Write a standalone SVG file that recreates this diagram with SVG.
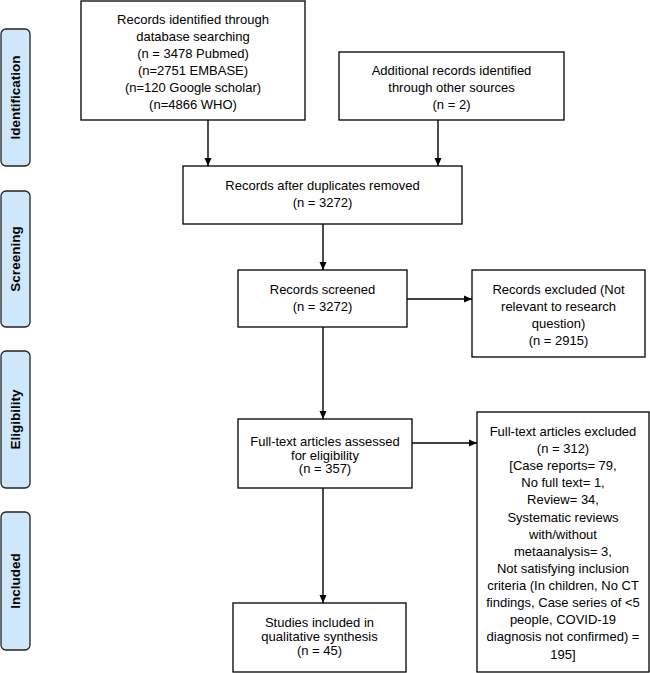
<svg xmlns="http://www.w3.org/2000/svg" width="650" height="673" viewBox="0 0 650 673">
<style>
.box{fill:#fff;stroke:#000;stroke-width:1.3}
.lab{fill:#cfe7fa;stroke:#222;stroke-width:1.3}
.t{font-family:"Liberation Sans",Arial,sans-serif;font-size:13px;fill:#000;text-anchor:middle}
.lt{font-family:"Liberation Sans",Arial,sans-serif;font-size:13.5px;font-weight:bold;fill:#000;text-anchor:middle}
.c{stroke:#000;stroke-width:1.4;fill:none;marker-end:url(#ah)}
</style>
<defs>
<marker id="ah" viewBox="0 0 8 8" refX="8" refY="4" markerWidth="8" markerHeight="8" markerUnits="userSpaceOnUse" orient="auto">
<path d="M0,0.5 L8,4 L0,7.5 Z" fill="#000"/>
</marker>
</defs>
<g id="label-identification"><rect class="lab" x="1" y="29" width="29" height="137" rx="5"/><text class="lt" transform="translate(20,97.5) rotate(-90)">Identification</text></g>
<g id="label-screening"><rect class="lab" x="1" y="191" width="29" height="136" rx="5"/><text class="lt" transform="translate(20,259) rotate(-90)">Screening</text></g>
<g id="label-eligibility"><rect class="lab" x="1" y="351" width="29" height="137" rx="5"/><text class="lt" transform="translate(20,419.5) rotate(-90)">Eligibility</text></g>
<g id="label-included"><rect class="lab" x="1" y="512" width="29" height="138" rx="5"/><text class="lt" transform="translate(20,581) rotate(-90)">Included</text></g>

<g id="n-db"><rect class="box" x="81" y="1" width="224" height="119"/>
<text class="t" x="193" y="23.5">Records identified through</text>
<text class="t" x="193" y="40.5">database searching</text>
<text class="t" x="193" y="57.5">(n = 3478 Pubmed)</text>
<text class="t" x="193" y="74.5">(n=2751 EMBASE)</text>
<text class="t" x="193" y="91.5">(n=120 Google scholar)</text>
<text class="t" x="193" y="108.5">(n=4866 WHO)</text></g>

<g id="n-other"><rect class="box" x="339" y="52" width="225" height="68"/>
<text class="t" x="451.5" y="74.5">Additional records identified</text>
<text class="t" x="451.5" y="91.5">through other sources</text>
<text class="t" x="451.5" y="109">(n = 2)</text></g>

<g id="n-dup"><rect class="box" x="183" y="166" width="279" height="58"/>
<text class="t" x="322.5" y="189.5">Records after duplicates removed</text>
<text class="t" x="322.5" y="206.5">(n = 3272)</text></g>

<g id="n-screened"><rect class="box" x="238" y="270" width="169" height="57"/>
<text class="t" x="322.5" y="293.5">Records screened</text>
<text class="t" x="322.5" y="311">(n = 3272)</text></g>

<g id="n-excluded"><rect class="box" x="472" y="270" width="173" height="87"/>
<text class="t" x="558.5" y="293.5">Records excluded (Not</text>
<text class="t" x="558.5" y="310.5">relevant to research</text>
<text class="t" x="558.5" y="327.5">question)</text>
<text class="t" x="558.5" y="344.5">(n = 2915)</text></g>

<g id="n-fulltext"><rect class="box" x="238" y="419" width="174" height="69"/>
<text class="t" x="325" y="446">Full-text articles assessed</text>
<text class="t" x="325" y="459.5">for eligibility</text>
<text class="t" x="325" y="473">(n = 357)</text></g>

<g id="n-ftexcluded"><rect class="box" x="477" y="412" width="172" height="260"/>
<text class="t" x="563" y="436">Full-text articles excluded</text>
<text class="t" x="563" y="453">(n = 312)</text>
<text class="t" x="563" y="470">[Case reports= 79,</text>
<text class="t" x="563" y="487">No full text= 1,</text>
<text class="t" x="563" y="504">Review= 34,</text>
<text class="t" x="563" y="521.5">Systematic reviews</text>
<text class="t" x="563" y="538.5">with/without</text>
<text class="t" x="563" y="555.5">metaanalysis= 3,</text>
<text class="t" x="563" y="572.5">Not satisfying inclusion</text>
<text class="t" x="563" y="590">criteria (In children, No CT</text>
<text class="t" x="563" y="607">findings, Case series of &lt;5</text>
<text class="t" x="563" y="624">people, COVID-19</text>
<text class="t" x="563" y="641">diagnosis not confirmed) =</text>
<text class="t" x="563" y="658.5">195]</text></g>

<g id="n-included"><rect class="box" x="233" y="603" width="173" height="69"/>
<text class="t" x="319.5" y="626.5">Studies included in</text>
<text class="t" x="319.5" y="641">qualitative synthesis</text>
<text class="t" x="319.5" y="655">(n = 45)</text></g>

<g id="connectors">
<path class="c" d="M208,120 V166"/>
<path class="c" d="M438,120 V166"/>
<path class="c" d="M323,224 V270"/>
<path class="c" d="M407,299 H472"/>
<path class="c" d="M323,327 V419"/>
<path class="c" d="M412,443 H477"/>
<path class="c" d="M323,488 V603"/>
</g>
</svg>
